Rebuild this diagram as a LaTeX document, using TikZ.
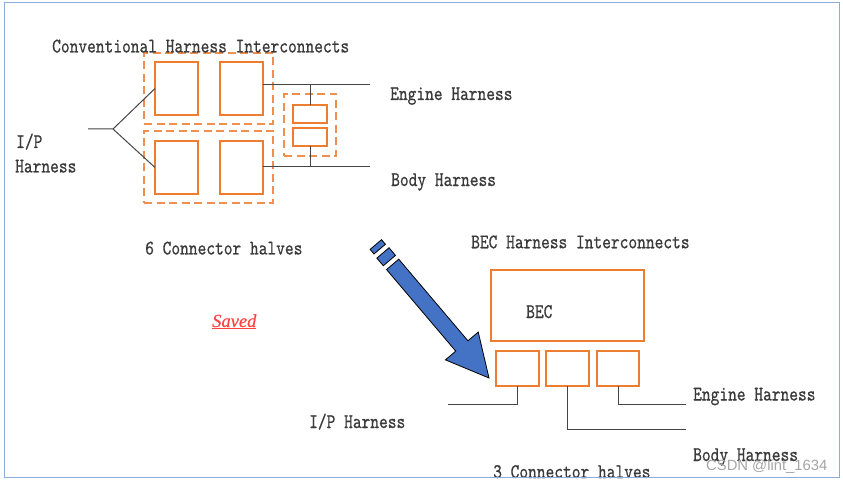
\documentclass[tikz,border=0pt]{standalone}
\usepackage{fontspec}
\newfontfamily\becfont{lmmono10-regular.otf}[FakeStretch=0.8,FakeBold=0.6]
\newfontfamily\savedfont{Liberation Serif}[FakeBold=0.5]
\newfontfamily\wmfont{Liberation Sans}
\definecolor{becOrange}{HTML}{ED7D31}
\definecolor{becBlue}{HTML}{4472C4}
\definecolor{becFrame}{HTML}{8FAADC}
\definecolor{becText}{HTML}{3A3A3A}
\definecolor{becWire}{HTML}{454545}
\definecolor{becRed}{HTML}{FF4444}
\definecolor{becGrey}{HTML}{A6A6A6}
\tikzset{
  half/.style={draw=becOrange, line width=2.7pt, inner sep=0pt, outer sep=0pt},
  grp/.style={draw=becOrange!85, line width=2.7pt, dash pattern=on 8pt off 4.5pt,
              inner sep=0pt, outer sep=0pt},
  wire/.style={draw=becWire, line width=1pt},
  lbl/.style={text=becText, font=\becfont\fontsize{20.8}{24}\selectfont,
              inner sep=0pt, anchor=base west},
  bigarrow/.style={fill=becBlue, draw=black, line width=0.8pt, line join=miter},
}
\begin{document}
\begin{tikzpicture}[x=1pt,y=-1pt]
  \useasboundingbox (0,0) rectangle (843,481);
  \fill[white] (0,0) rectangle (843,481);

  % conventional harness: groups and connector halves
  \node[grp,minimum width=129pt,minimum height=71pt] (gUp) at (208.5,88.5){};
  \node[grp,minimum width=129pt,minimum height=72pt] (gLow) at (208.5,167){};
  \node[grp,minimum width=52pt,minimum height=62pt] (gMid) at (310,125){};
  \node[half,minimum width=43pt,minimum height=53pt] (ul) at (176.5,88.5){};
  \node[half,minimum width=43pt,minimum height=53pt] (ur) at (241.5,88.5){};
  \node[half,minimum width=43pt,minimum height=53pt] (ll) at (176.5,167.5){};
  \node[half,minimum width=43pt,minimum height=53pt] (lr) at (241.5,167.5){};
  \node[half,minimum width=34pt,minimum height=18pt] (sb1) at (310,114){};
  \node[half,minimum width=34pt,minimum height=18pt] (sb2) at (310,137){};

  \coordinate (ipEnd) at (88,129);
  \coordinate (fork) at (113,129);
  \coordinate (engEnd) at (370,85);
  \coordinate (bodyEnd) at (370,167);
  \draw[wire] (ipEnd) -- (fork) -- (ul.west);
  \draw[wire] (fork) -- (ll.west);
  \draw[wire] (ur.east |- engEnd) -- (engEnd);
  \draw[wire] (lr.east |- bodyEnd) -- (bodyEnd);
  \draw[wire] (sb1.north) -- (sb1.north |- engEnd);
  \draw[wire] (sb2.south) -- (sb2.south |- bodyEnd);

  \node[lbl] (convTitle) at (52,52.5){Conventional Harness Interconnects};
  \node[lbl] (ipTop) at (16,148){I/P};
  \node[lbl] (ipBot) at (15,172.5){Harness};
  \node[lbl] (engTop) at (390,100){Engine Harness};
  \node[lbl] (bodyTop) at (391,186){Body Harness};
  \node[lbl] (sixHalves) at (145,254.5){6 Connector halves};
  \node[anchor=base west,inner sep=0pt,text=becRed,
        font=\savedfont\itshape\fontsize{18.5}{20}\selectfont] (saved) at (212,327){\underline{Saved}};

  % arrow
  \begin{scope}[shift={(489,378)},rotate=-49.7]
    \filldraw[bigarrow] (0,0) -- (-42,21.5) -- (-42,8) -- (-149,8) -- (-149,-8)
      -- (-42,-8) -- (-42,-21.5) -- cycle;
    \filldraw[bigarrow] (-164,-8) rectangle (-154,8);
    \filldraw[bigarrow] (-175,-7.5) rectangle (-169,7.5);
  \end{scope}

  % BEC harness
  \node[half,line width=2.2pt,minimum width=153pt,minimum height=71pt] (bec) at (567.5,305.5){};
  \node[half,line width=2.4pt,minimum width=43pt,minimum height=35pt] (c1) at (517.5,368.5){};
  \node[half,line width=2.4pt,minimum width=43pt,minimum height=35pt] (c2) at (567.5,368.5){};
  \node[half,line width=2.4pt,minimum width=42pt,minimum height=35pt] (c3) at (618,368.5){};

  \coordinate (ipB) at (448,404);
  \coordinate (engB) at (686,404);
  \coordinate (bodyB) at (686,429);
  \draw[wire] (c1.south) |- (ipB);
  \draw[wire] (c2.south) |- (bodyB);
  \draw[wire] (c3.south) |- (engB);

  \node[lbl] (becTitle) at (471,248.3){BEC Harness Interconnects};
  \node[lbl] (becLbl) at (526,318){BEC};
  \node[lbl] (ipLow) at (309,428){I/P Harness};
  \node[lbl] (engLow) at (693,400.5){Engine Harness};
  \node[lbl] (bodyLow) at (693,461){Body Harness};
  \node[lbl] (threeHalves) at (493,478){3 Connector halves};
  \node[anchor=base west,inner sep=0pt,text=becGrey,
        font=\wmfont\fontsize{14.8}{16}\selectfont] (wm) at (706,470){CSDN @lint\_1634};

  % frame
  \draw[becFrame,line width=1.5pt] (4.5,2.5) rectangle (839.5,477.5);
\end{tikzpicture}
\end{document}
